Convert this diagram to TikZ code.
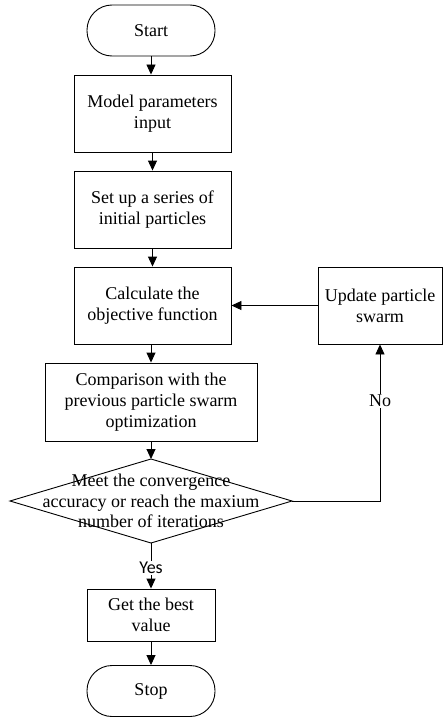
\documentclass[tikz,border=0pt]{standalone}
\usepackage{fontspec}
\setmainfont{Liberation Serif}
\newfontfamily\yesfont{Carlito}
\usetikzlibrary{arrows.meta}
\begin{document}
\begin{tikzpicture}[x=1pt,y=-1pt,
  every node/.style={font=\fontsize{18}{20.7}\selectfont, align=center, inner sep=0pt},
  box/.style={draw, line width=0.9pt, minimum width=#1},
  term/.style={draw, line width=0.9pt, rounded corners=25pt, minimum width=128pt, minimum height=51pt},
  arr/.style={line width=0.9pt, -{Triangle[width=9pt,length=10pt]}},
  lbl/.style={fill=white, inner sep=1pt}]
\useasboundingbox (0,0) rectangle (442,717);
\node[term] (start) at (151,30.5) {Start};
\node[box=157pt, minimum height=77pt] (b1) at (152.5,113.5) {Model parameters\\input};
\node[box=157pt, minimum height=77pt] (b2) at (152.5,209.5) {Set up a series of\\initial particles};
\node[box=157pt, minimum height=77pt] (b3) at (152.5,305.5) {Calculate the\\objective function};
\node[box=124pt, minimum height=77pt] (up) at (380,305.5) {Update particle\\swarm};
\node[box=212pt, minimum height=78pt] (b4) at (151,402) {Comparison with the\\previous particle swarm\\optimization};
\coordinate (dt) at (151,459);
\coordinate (dl) at (10,501);
\coordinate (dr) at (292,501);
\coordinate (db) at (151,543);
\draw[line width=0.9pt] (dt) -- (dr) -- (db) -- (dl) -- cycle;
\node (dtext) at (151,501) {Meet the convergence\\accuracy or reach the maxium\\number of iterations};
\node[box=128pt, minimum height=52pt] (b5) at (151,615) {Get the best\\value};
\node[term] (stop) at (151,691) {Stop};
\draw[arr] (start) -- (start.south |- b1.north);
\draw[arr] (b1) -- (b2);
\draw[arr] (b2) -- (b3);
\draw[arr] (b3.south -| b4.north) -- (b4.north);
\draw[arr] (b4) -- (dt);
\draw[arr] (up) -- (b3);
\draw[arr] (dr) -| coordinate[pos=0.75] (nopos) (up.south);
\node[lbl] (no) at (380,401) {No};
\draw[arr] (db) -- (b5.north);
\node[lbl, font=\yesfont\fontsize{18}{20}\selectfont] (yes) at (151,568) {Yes};
\draw[arr] (b5) -- (stop);
\end{tikzpicture}
\end{document}
